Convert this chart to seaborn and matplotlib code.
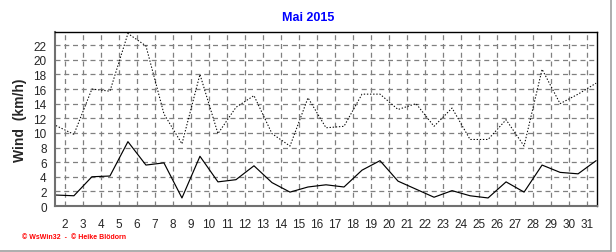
import matplotlib
matplotlib.use("Agg")
import matplotlib.pyplot as plt
import seaborn as sns
import pandas as pd
import numpy as np
from matplotlib.lines import Line2D

days = list(range(1, 32))
wind_avg = [1.5, 1.4, 4.0, 4.1, 8.8, 5.6, 5.9, 1.1, 6.8, 3.3, 3.6, 5.5, 3.2, 1.9, 2.6,
            2.9, 2.6, 4.9, 6.2, 3.4, 2.3, 1.2, 2.1, 1.4, 1.1, 3.3, 1.9, 5.6, 4.6, 4.4, 6.2]
wind_max = [11.0, 9.8, 16.0, 15.7, 23.6, 21.9, 12.6, 8.5, 18.0, 9.9, 13.5, 15.1, 9.9, 8.2, 14.8,
            10.7, 10.9, 15.3, 15.3, 13.2, 14.0, 10.9, 13.4, 9.1, 9.1, 11.8, 8.2, 18.7, 14.0, 15.3, 16.8]
tick_days = list(range(2, 32))
y_ticks = list(range(0, 23, 2))
title = "Mai 2015"
ylabel = "Wind  (km/h)"
footer = "\u00a9 WsWin32  -  \u00a9 Heike Bl\u00f6dorn"

df = pd.DataFrame({"pos": [d + 0.5 for d in days], "avg": wind_avg, "max": wind_max})

sns.set_style("white")
plt.rcParams['font.family'] = ['Liberation Sans', 'DejaVu Sans']

fig = plt.figure(figsize=(6.16, 2.53), dpi=100)
ax = fig.add_axes([55/616, 1-207/253, (597-55)/616, (207-33)/253])

sns.lineplot(data=df, x="pos", y="max", ax=ax, color="black", linewidth=0.75,
             linestyle=(0, (1.3, 1.7)))
sns.lineplot(data=df, x="pos", y="avg", ax=ax, color="black", linewidth=0.85)

ax.set_xlim(1.45, 31.55)
ax.set_ylim(0, 23.8)
ax.set_xticks(tick_days)
ax.set_xticklabels([str(d) for d in tick_days], fontsize=8.5)
ax.set_yticks(y_ticks)
ax.set_yticklabels([str(v) for v in y_ticks], fontsize=8.5)
ax.set_xticks(np.arange(1.5, 31.6, 1/6), minor=True)
ax.set_yticks(np.arange(0, 23.9, 0.5), minor=True)
ax.tick_params(axis='both', which='major', length=4, width=0.8, color='#808080', direction='out', pad=2)
ax.tick_params(axis='both', which='minor', length=2, width=0.8, color='#808080', direction='out')
ax.tick_params(axis='x', which='major', pad=5)
ax.grid(True, which='major', color='#808080', linestyle=(0, (4, 3)), linewidth=0.9)
ax.set_axisbelow(True)

for s in ['top', 'right']:
    ax.spines[s].set_color('black')
    ax.spines[s].set_linewidth(1.0)
for s in ['left', 'bottom']:
    ax.spines[s].set_color('#707070')
    ax.spines[s].set_linewidth(1.5)

ax.set_xlabel("")
ax.set_ylabel(ylabel, fontsize=10, fontweight='bold', labelpad=6)
ax.yaxis.set_label_coords(-28/542, 0.5)

fig.text(308/616, 1-18/253, title, color='#0000ff', fontsize=9, fontweight='bold',
         ha='center', va='center')
fig.text(22/616, 1-238/253, footer, color='red', fontsize=5.0, fontweight='bold',
         ha='left', va='center')

fig.add_artist(Line2D([0, 611/616], [1.5/253, 1.5/253], color='#a0a0a0', linewidth=1.2, transform=fig.transFigure))
fig.add_artist(Line2D([611/616, 611/616], [1.5/253, 1], color='#a0a0a0', linewidth=1.2, transform=fig.transFigure))

fig.savefig("out.png", dpi=100)
